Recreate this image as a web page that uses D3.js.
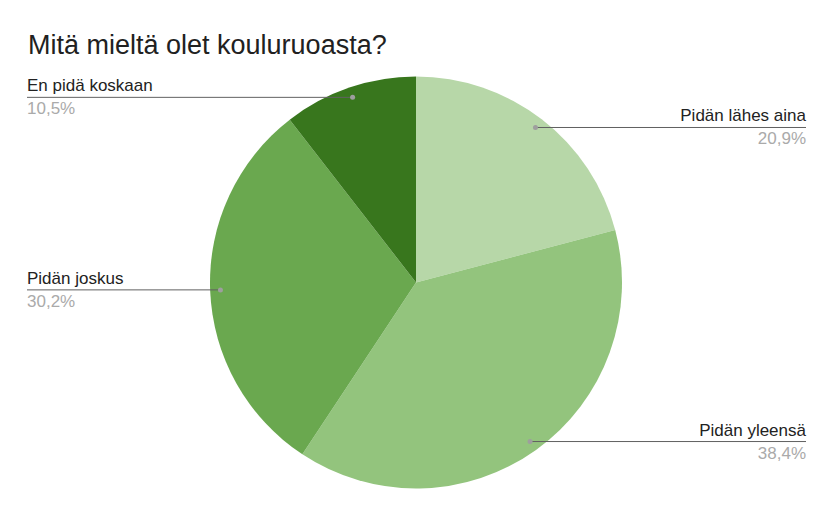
<!DOCTYPE html>
<html>
<head>
<meta charset="utf-8">
<script src="https://cdn.jsdelivr.net/npm/d3@7"></script>
<style>
  body { margin: 0; background: #fff; }
  text { font-family: Arial, "Liberation Sans", sans-serif; }
</style>
</head>
<body>
<script>
var w = 833;
var h = 515;

// slices, clockwise from 12 o'clock
var categories = ["Pidän lähes aina", "Pidän yleensä", "Pidän joskus", "En pidä koskaan"];
var values = [20.9, 38.4, 30.2, 10.5];
var percentLabels = ["20,9%", "38,4%", "30,2%", "10,5%"];
var colors = ["#b7d7a8", "#93c47d", "#6aa84f", "#38761d"];

var cx = 416, cy = 282.5, r = 206;
var leftX = 27, rightX = 806;

var svg = d3.select("body")
  .append("svg")
  .attr("width", w)
  .attr("height", h);

svg.append("rect")
  .attr("width", "100%")
  .attr("height", "100%")
  .attr("fill", "#fff");

svg.append("text")
  .attr("x", 28)
  .attr("y", 54)
  .attr("font-size", 27)
  .attr("fill", "#212121")
  .text("Mitä mieltä olet kouluruoasta?");

var data = categories.map(function(c, i) {
  return { name: c, value: values[i], pct: percentLabels[i], color: colors[i] };
});

var pie = d3.pie()
  .sort(null)
  .value(function(d) { return d.value; });

var arc = d3.arc()
  .innerRadius(0)
  .outerRadius(r);

var g = svg.append("g")
  .attr("transform", "translate(" + cx + "," + cy + ")");

var arcs = pie(data);

g.selectAll("path")
  .data(arcs)
  .enter()
  .append("path")
  .attr("d", arc)
  .attr("fill", function(d) { return d.data.color; });

// leader lines + labels
var labels = svg.append("g");

arcs.forEach(function(a) {
  var mid = (a.startAngle + a.endAngle) / 2;
  var px = cx + Math.sin(mid) * r * 0.95;
  var py = cy - Math.cos(mid) * r * 0.95;
  var right = px > cx;
  var endX = right ? rightX : leftX;

  labels.append("line")
    .attr("x1", px).attr("y1", py)
    .attr("x2", endX).attr("y2", py)
    .attr("stroke", "#616161")
    .attr("stroke-width", 1);

  labels.append("circle")
    .attr("cx", px).attr("cy", py)
    .attr("r", 2.5)
    .attr("fill", "#9e9e9e");

  labels.append("text")
    .attr("x", endX)
    .attr("y", py - 6)
    .attr("text-anchor", right ? "end" : "start")
    .attr("font-size", 17)
    .attr("fill", "#222")
    .text(a.data.name);

  labels.append("text")
    .attr("x", endX)
    .attr("y", py + 17)
    .attr("text-anchor", right ? "end" : "start")
    .attr("font-size", 17)
    .attr("fill", "#aaa")
    .text(a.data.pct);
});
</script>
</body>
</html>
